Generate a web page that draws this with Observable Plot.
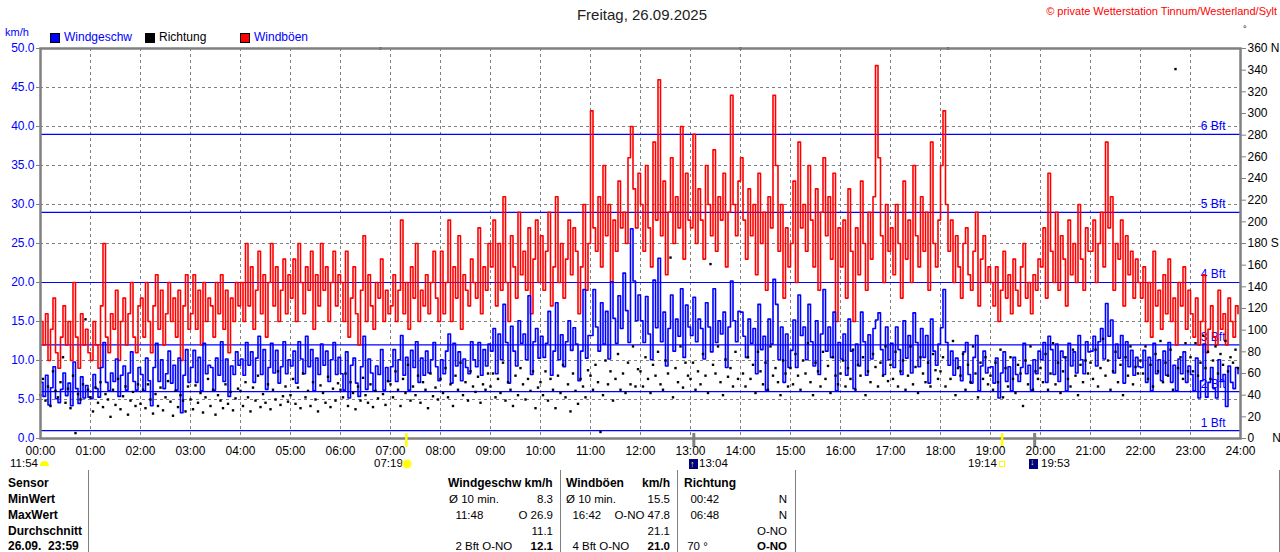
<!DOCTYPE html>
<html><head><meta charset="utf-8">
<script src="https://cdn.jsdelivr.net/npm/d3@7"></script>
<script src="https://cdn.jsdelivr.net/npm/@observablehq/plot@0.6"></script>
<style>
body{margin:0;background:#fff;font-family:"Liberation Sans",Arial,sans-serif;}
#wrap{position:relative;width:1280px;height:552px;overflow:hidden;background:#fff;}
#wrap svg{position:absolute;left:0;top:0;}
.t{position:absolute;white-space:pre;line-height:1;}
</style></head><body><div id="wrap"></div>
<script>
// ---- data (3-minute samples, 00:00 .. 23:57) ----
const stepMinutes = 3;
const gustKmh = [
/*00*/15,12,16,10,14,18,11,9,13,17,12,15,10,20,13,9,16,12,14,11,
/*01*/10,15,12,9,17,25,13,11,16,14,19,10,15,18,12,16,20,13,11,17,
/*02*/18,13,20,15,11,17,21,14,19,12,16,20,15,18,13,19,10,17,21,14,
/*03*/16,21,14,19,12,20,15,18,17,13,20,16,21,14,19,11,18,15,20,17,
/*04*/20,15,25,17,22,14,19,24,16,21,13,20,25,17,22,15,19,23,16,21,
/*05*/18,23,15,25,20,16,22,19,24,14,21,17,25,19,22,15,20,24,17,21,
/*06*/20,15,24,13,18,22,16,12,19,26,15,21,17,14,20,18,23,15,19,16,
/*07*/17,21,15,19,28,16,20,14,22,18,25,15,19,17,21,16,20,24,18,15,
/*08*/24,16,20,28,15,22,18,26,14,21,19,17,23,20,18,27,16,22,19,25,
/*09*/22,28,17,25,19,31,20,15,26,22,18,29,21,24,19,27,16,23,28,20,
/*10*/26,19,24,29,17,22,31,20,25,18,23,28,21,27,24,16,22,30,19,25,
/*11*/42,27,24,31,22,35,26,30,20,28,24,33,27,29,25,36,40,32,27,34,
/*12*/30,24,35,27,22,38,28,46,26,33,21,29,36,25,31,27,40,23,34,28,
/*13*/27,39,25,32,28,23,35,30,26,37,24,31,28,34,22,29,44,30,26,33,
/*14*/36,28,23,32,26,30,21,34,25,29,19,31,27,44,35,24,30,18,27,22,
/*15*/25,33,20,38,27,30,24,35,28,22,32,19,29,36,26,31,23,34,15,27,
/*16*/22,28,18,32,24,15,27,21,33,25,19,29,23,31,47.8,36,26,20,30,24,
/*17*/27,21,30,25,18,33,23,28,20,35,26,22,31,24,29,19,38,25,22,28,
/*18*/35,42,30,24,28,20,26,22,18,25,27,21,19,24,29,17,23,26,20,22,
/*19*/20,17,22,15,19,24,18,21,16,23,19,17,22,25,18,20,16,21,19,23,
/*20*/22,27,18,34,24,20,29,19,26,23,17,28,21,25,20,30,23,19,27,24,
/*21*/24,28,20,25,29,22,38,27,31,19,25,23,28,17,26,21,24,18,23,20,
/*22*/18,22,15,20,13,24,17,19,14,21,16,23,15,18,12,20,17,22,14,19,
/*23*/16,13,18,12,15,21,11,14,17,13,12,19,14,16,12,18,15,13,17,16];
const speedKmh = [
/*00*/7.2,5.4,8.1,4.3,6.5,9.2,5.1,4.6,6.3,8.4,5.5,7.1,4.2,9.8,6.4,4.5,7.9,5.2,6.8,5.3,
/*01*/5.1,8.2,6.4,5.3,9.1,12.3,7.2,6.1,8.4,7.3,10.2,5.4,8.1,9.3,6.2,8.4,11.1,7.3,6.2,9.1,
/*02*/8.2,6.1,10.3,7.4,4.2,9.1,12.2,7.3,10.1,6.4,8.3,11.2,7.1,9.4,6.2,10.3,3.3,8.1,11.4,7.2,
/*03*/9.1,11.3,7.2,10.4,6.1,12.2,8.3,9.4,9.1,6.2,10.3,8.1,12.4,7.3,10.2,5.4,9.3,8.2,11.1,9.4,
/*04*/10.2,8.1,12.3,9.4,11.1,7.2,10.3,13.1,8.2,11.4,6.3,9.1,12.2,8.4,11.3,7.1,9.2,12.4,8.3,10.1,
/*05*/9.3,11.2,7.1,12.4,10.2,8.3,13.1,9.2,11.4,6.1,10.3,8.2,12.1,9.4,11.2,7.3,10.1,12.3,8.2,10.4,
/*06*/8.3,6.2,11.1,5.2,9.4,10.3,7.1,5.4,9.2,13.1,6.3,10.2,8.4,6.1,9.3,8.2,11.4,6.2,9.1,7.3,
/*07*/9.2,11.4,7.3,10.1,13.2,8.1,10.4,6.2,11.3,9.1,12.4,7.2,10.3,8.1,11.2,8.4,10.1,12.3,9.2,7.4,
/*08*/10.1,8.3,11.2,13.4,7.1,12.2,9.3,11.1,7.4,10.2,9.1,8.3,12.4,10.1,9.2,12.3,8.1,11.4,9.3,12.1,
/*09*/11.2,14.1,8.3,13.4,10.1,17.2,12.3,7.1,14.4,11.2,9.3,15.1,12.2,13.4,10.1,18.3,8.2,12.4,14.1,10.3,
/*10*/13.1,10.4,12.2,16.3,8.1,11.2,17.4,10.1,13.3,9.2,12.4,15.1,11.3,14.2,12.1,7.4,11.2,19.1,10.3,13.2,
/*11*/13.2,19.1,14.3,11.2,17.4,12.1,16.3,10.2,20.1,15.4,12.2,18.3,14.1,21.2,16.4,12.3,26.9,20.2,15.1,18.4,
/*12*/15.1,12.3,18.2,13.4,10.1,20.3,14.2,23.1,12.4,16.2,9.3,14.1,18.4,11.2,15.3,13.1,19.2,10.4,17.1,14.3,
/*13*/13.2,18.1,12.4,15.3,14.1,10.2,17.4,14.3,11.1,19.2,12.3,15.1,13.4,16.2,9.1,14.3,20.2,15.1,12.4,16.3,
/*14*/16.2,13.1,10.4,15.3,12.2,14.1,8.3,17.2,11.4,13.1,6.2,15.3,12.1,20.4,17.2,10.1,14.3,7.2,13.4,9.1,
/*15*/11.3,15.2,9.1,18.4,13.2,14.3,10.1,17.2,12.4,9.3,15.1,8.2,13.4,19.1,11.2,14.3,10.4,16.2,6.1,12.3,
/*16*/10.2,13.4,8.1,15.3,11.2,6.4,12.1,9.3,16.2,12.4,8.1,13.3,10.2,14.1,15.2,16.1,11.4,8.2,14.3,10.1,
/*17*/12.2,9.1,14.3,11.4,8.2,15.1,10.3,13.2,8.4,16.1,12.3,9.2,14.1,10.4,13.2,7.1,15.3,11.2,9.4,12.1,
/*18*/14.2,19.1,12.3,9.4,11.2,8.1,10.3,9.2,7.4,11.1,12.3,8.2,7.1,10.4,13.2,6.1,9.3,11.2,8.4,9.1,
/*19*/9.2,7.1,10.3,5.2,8.4,11.1,7.3,9.2,6.1,10.4,8.2,7.3,9.1,12.2,8.3,9.4,6.2,10.1,8.3,11.2,
/*20*/10.1,12.3,7.2,13.1,11.4,8.2,12.1,7.3,11.2,10.4,6.1,12.2,9.3,11.1,8.4,13.2,10.1,8.3,12.4,11.1,
/*21*/11.2,13.1,9.3,12.4,14.1,10.2,17.3,13.1,15.2,8.4,12.1,10.3,13.2,7.1,12.4,9.2,11.3,8.1,10.4,9.2,
/*22*/9.1,11.3,7.2,10.4,6.1,12.2,8.3,10.1,7.4,11.2,8.1,12.3,7.2,9.4,6.1,10.2,8.3,11.1,7.2,9.3,
/*23*/8.2,6.1,10.3,5.2,7.4,12.1,5.3,7.2,9.1,6.4,5.2,10.1,7.3,8.2,4.1,9.3,7.2,6.4,9.1,8.3];
const dirDeg = [
/*00*/40,55,35,48,30,62,44,38,52,75,33,46,28,58,5,41,36,50,110,45,
/*01*/38,25,47,33,52,29,41,36,20,45,31,55,27,39,48,22,35,43,30,50,
/*02*/32,45,28,50,36,23,41,30,47,26,38,53,34,21,44,29,40,35,25,48,
/*03*/36,27,49,33,42,24,38,55,30,45,22,40,35,28,50,32,43,26,37,46,
/*04*/44,30,52,38,25,47,35,58,29,41,33,50,27,45,36,62,31,39,48,34,
/*05*/40,55,32,47,28,60,38,44,30,52,36,25,49,42,33,57,29,46,35,51,
/*06*/45,38,60,30,52,42,27,48,35,56,40,33,50,29,44,37,360,41,31,53,
/*07*/50,38,62,45,30,55,42,68,35,48,40,58,33,52,45,28,60,39,47,36,
/*08*/55,42,65,38,50,30,58,45,70,40,52,35,62,48,43,57,33,50,45,60,
/*09*/48,60,38,55,42,70,35,52,45,30,58,40,65,50,36,55,44,62,28,47,
/*10*/52,40,62,35,55,45,28,58,42,68,38,50,25,60,44,32,55,48,38,63,
/*11*/58,45,68,52,6,40,72,50,62,35,55,78,45,60,42,70,50,85,48,64,
/*12*/62,48,75,55,42,68,58,80,50,45,72,60,167,38,65,52,85,47,70,58,
/*13*/55,70,45,62,50,78,58,42,161,68,60,85,52,40,73,57,65,48,80,55,
/*14*/360,60,48,75,55,68,42,80,62,50,70,45,85,58,65,52,40,72,60,48,
/*15*/65,50,78,58,45,72,60,88,52,40,70,62,48,80,55,67,42,75,58,50,
/*16*/60,72,48,65,55,82,45,68,58,75,40,62,52,78,66,48,70,58,85,53,
/*17*/68,55,80,48,62,72,45,58,85,50,66,42,75,60,52,70,48,78,63,55,
/*18*/62,75,48,360,55,90,40,65,58,78,45,68,52,85,60,38,70,55,75,50,
/*19*/58,45,70,52,82,38,65,48,75,55,42,68,60,30,72,50,85,45,62,55,
/*20*/65,52,78,45,60,88,50,70,42,62,75,55,48,82,58,40,68,52,72,60,
/*21*/70,55,82,48,65,92,58,72,45,62,80,52,68,40,75,58,85,50,66,60,
/*22*/72,60,85,55,68,48,78,62,90,52,70,58,82,45,341,65,75,55,88,62,
/*23*/75,62,88,58,70,95,65,80,55,72,85,60,78,68,90,62,75,70,82,65];

const hourTicks = [0,1,2,3,4,5,6,7,8,9,10,11,12,13,14,15,16,17,18,19,20,21,22,23,24];
const hourLabels = ["00:00","01:00","02:00","03:00","04:00","05:00","06:00","07:00","08:00","09:00","10:00","11:00","12:00","13:00","14:00","15:00","16:00","17:00","18:00","19:00","20:00","21:00","22:00","23:00","24:00"];
const kmhTicks = [0,5,10,15,20,25,30,35,40,45,50];
const dirTicks = [0,20,40,60,80,100,120,140,160,180,200,220,240,260,280,300,320,340,360];
const dirLabels = ["0\u2003\u2002N","20","40","60","80","100","120","140","160","180 S","200","220","240","260","280","300","320","340","360 N"];
const bftKmh = [1,6,12,20,29,39];
const bftLabels = ["1 Bft","2 Bft","3 Bft","4 Bft","5 Bft","6 Bft"];
const sunHours = [7+19/60, 19+14/60];     // sunrise / sunset
const moonHours = [13+4/60, 19+53/60];    // moonrise / moonset

const tableRowLabels = ["Sensor","MinWert","MaxWert","Durchschnitt","26.09.  23:59"];
const speedStatLeft  = ["Ø 10 min.","  11:48","","  2 Bft O-NO"];
const speedStatRight = ["8.3","O 26.9","11.1","12.1"];
const gustStatLeft   = ["Ø 10 min.","  16:42","","  4 Bft O-NO"];
const gustStatRight  = ["15.5","O-NO 47.8","21.1","21.0"];
const dirStatLeft    = ["  00:42","  06:48",""," 70 °"];
const dirStatRight   = ["N","N","O-NO","O-NO"];

// ---- build ----
const degToKmh = d => d * 50 / 360;
const rows = gustKmh.map((g, i) => ({t: i * stepMinutes / 60, gust: g, speed: speedKmh[i], dir: dirDeg[i]}));
const bftRows = bftKmh.map((v, i) => ({v, label: bftLabels[i]}));
const font = '"Liberation Sans", Arial, sans-serif';
const grid = {stroke: "#808080", strokeOpacity: 1, strokeDasharray: "3,3", strokeWidth: 1};

const chart = Plot.plot({
  width: 1280, height: 470,
  marginTop: 48, marginBottom: 32, marginLeft: 40, marginRight: 40,
  x: {domain: [0, 24], label: null},
  y: {domain: [0, 50], label: null},
  style: {fontFamily: font, fontSize: "11px", background: "transparent", color: "black", overflow: "visible"},
  marks: [
    Plot.gridX(hourTicks.slice(1, -1), grid),
    Plot.gridY(kmhTicks.slice(1, -1), grid),
    Plot.ruleY(bftKmh, {stroke: "#0000ff", strokeWidth: 1.2}),
    Plot.text(bftRows, {x: 24, y: "v", text: "label", dx: -15, dy: -8, textAnchor: "end", fill: "#0000ff", fontSize: 12}),
    Plot.line(rows, {x: "t", y: "gust", stroke: "#ff0000", strokeWidth: 1.6, curve: "step-after"}),
    Plot.line(rows, {x: "t", y: "speed", stroke: "#0000ff", strokeWidth: 1.6, curve: "step-after"}),
    Plot.dot(rows, {x: "t", y: d => degToKmh(d.dir), symbol: "square", r: 1.35, fill: "black", stroke: null}),
    Plot.frame({stroke: "#808080", strokeWidth: 2.5}),
    Plot.ruleX(sunHours, {y1: 0.65, y2: -1.15, stroke: "#ffff00", strokeWidth: 2.5}),
    Plot.ruleX(moonHours, {y1: 0.65, y2: -1.15, stroke: "#808080", strokeWidth: 3}),
    Plot.axisY(kmhTicks, {anchor: "left", tickFormat: d => d.toFixed(1), fill: "#0000ff", stroke: "#808080", tickSize: 4, tickPadding: 2, fontSize: 12, label: null}),
    Plot.axisY(dirTicks.map(degToKmh), {anchor: "right", tickFormat: (d, i) => dirLabels[i], fill: "black", stroke: "#808080", tickSize: 5, tickPadding: 2, fontSize: 12, label: null}),
    Plot.axisX(hourTicks, {anchor: "bottom", tickFormat: (d, i) => hourLabels[i], tickSize: 0, tickPadding: 8, fontSize: 12, fill: "black", label: null})
  ]
});
const wrap = document.getElementById("wrap");
wrap.appendChild(chart);

function txt(s, x, yc, o = {}) {
  const size = o.size || 12;
  const d = document.createElement("div");
  d.className = "t";
  d.textContent = s;
  d.style.fontSize = size + "px";
  d.style.top = (yc - size * 0.55) + "px";
  if (o.right) d.style.right = (1280 - x) + "px"; else if (o.center) { d.style.left = x + "px"; d.style.transform = "translateX(-50%)"; } else d.style.left = x + "px";
  d.style.color = o.color || "black";
  if (o.bold) d.style.fontWeight = "bold";
  wrap.appendChild(d);
  return d;
}
function box(x, y, w, h, css) {
  const d = document.createElement("div");
  d.style.cssText = `position:absolute;left:${x}px;top:${y}px;width:${w}px;height:${h}px;${css}`;
  wrap.appendChild(d);
  return d;
}

// header
txt("Freitag, 26.09.2025", 642, 15, {center: true, size: 15, color: "#222"});
txt("© private Wetterstation Tinnum/Westerland/Sylt", 1277, 12, {right: true, size: 11, color: "#ff0000"});
txt("°", 1243, 30, {size: 9});
txt("km/h", 5, 33, {size: 11, color: "#0000ff"});
box(50, 33, 10, 10, "background:#0000ff;border:1px solid #000;box-sizing:border-box;");
txt("Windgeschw", 64, 38, {size: 12, color: "#0000ff"});
box(145, 33, 10, 10, "background:#000;");
txt("Richtung", 159, 38, {size: 12});
box(240, 33, 10, 10, "background:#ff0000;border:1px solid #000;box-sizing:border-box;");
txt("Windböen", 254, 38, {size: 12, color: "#0000ff"});

// sun / moon annotations
txt("11:54", 10, 464, {size: 11.5});
box(40, 461, 9, 5, "background:#ffff00;border-radius:5px 5px 0 0;");
txt("07:19", 374, 464, {size: 11.5});
box(403, 460, 8, 8, "background:#ffff00;border-radius:50%;box-shadow:0 0 2px 1px #ffffa0;");
box(689, 459, 9, 10, "background:#000080;");
txt("↑", 690, 465, {size: 9, color: "#ffff00", bold: true});
txt("13:04", 699, 464, {size: 11.5});
txt("19:14", 968, 464, {size: 11.5});
box(999, 461, 6, 6, "border:1px solid #ffff00;box-sizing:border-box;");
box(1029, 459, 9, 10, "background:#000080;");
txt("↓", 1030, 463, {size: 9, color: "#ffff00", bold: true});
txt("19:53", 1041, 464, {size: 11.5});

// table
[88, 560, 677, 795, 1279].forEach(x => box(x, 470, 1, 82, "background:#808080;"));
const rowY = [484, 500, 516, 532, 547];
tableRowLabels.forEach((s, i) => txt(s, 8, rowY[i], {bold: true, size: 12}));
txt("Windgeschw km/h", 448, rowY[0], {bold: true, size: 12});
txt("Windböen", 566, rowY[0], {bold: true, size: 12});
txt("km/h", 670, rowY[0], {bold: true, size: 12, right: true});
txt("Richtung", 684, rowY[0], {bold: true, size: 12});
for (let i = 0; i < 4; i++) {
  const y = rowY[i + 1], last = i === 3;
  txt(speedStatLeft[i], 449, y, {size: 11.5});
  txt(speedStatRight[i], 553, y, {size: 11.5, right: true, bold: last});
  txt(gustStatLeft[i], 566, y, {size: 11.5});
  txt(gustStatRight[i], 670, y, {size: 11.5, right: true, bold: last});
  txt(dirStatLeft[i], 684, y, {size: 11.5});
  txt(dirStatRight[i], 787, y, {size: 11.5, right: true, bold: last});
}
</script></body></html>
